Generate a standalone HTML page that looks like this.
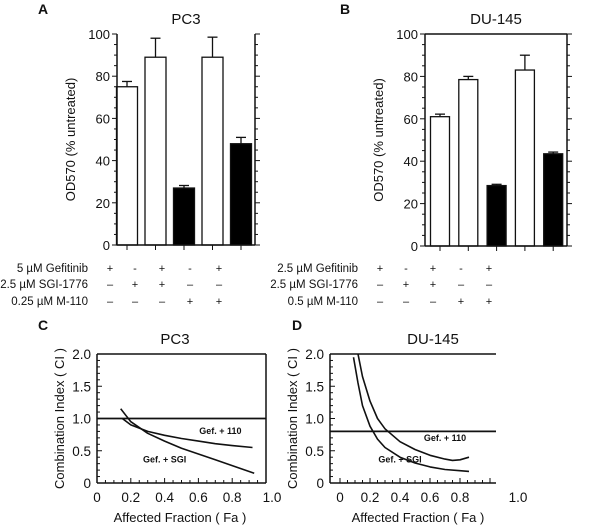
<!DOCTYPE html>
<html><head><meta charset="utf-8"><style>
html,body{margin:0;padding:0;background:#fff;}
svg{display:block;font-family:"Liberation Sans",Arial,sans-serif;}
</style></head><body>
<svg id="fig" width="600" height="526" viewBox="0 0 600 526">
<g id="g" stroke-linecap="butt"></g>
</svg>
<script>
// Panel A/B bar data
const barValsA = [75, 89, 27, 89, 48];
const barErrA = [2.5, 9, 1.2, 9.5, 3];
const barFillA = ["white","white","black","white","black"];
const barValsB = [61, 78.5, 28.5, 83, 43.5];
const barErrB = [1.2, 1.5, 0.6, 7, 0.8];
const barFillB = ["white","white","black","white","black"];
const yTicksBar = [0, 20, 40, 60, 80, 100];
const rowLabelsA = ["5 \u00b5M Gefitinib","2.5 \u00b5M SGI-1776","0.25 \u00b5M M-110"];
const rowLabelsB = ["2.5 \u00b5M Gefitinib","2.5 \u00b5M SGI-1776","0.5 \u00b5M M-110"];
const signs = [["+","-","+","-","+"],["\u2013","+","+","\u2013","\u2013"],["\u2013","\u2013","\u2013","+","+"]];
// Panel C/D CI data
const ciTicks = [0, 0.5, 1.0, 1.5, 2.0];
const ciTickLabels = ["0","0.5","1.0","1.5","2.0"];
const faTicks = [0, 0.2, 0.4, 0.6, 0.8, 1.0];
const faTickLabels = ["0","0.2","0.4","0.6","0.8","1.0"];
const cSgiFa = [0.14,0.2,0.3,0.4,0.5,0.6,0.7,0.8,0.93];
const cSgiCi = [1.15,0.95,0.77,0.65,0.54,0.45,0.36,0.27,0.15];
const c110Fa = [0.15,0.2,0.3,0.4,0.5,0.6,0.7,0.8,0.92];
const c110Ci = [1.0,0.9,0.8,0.74,0.69,0.65,0.61,0.58,0.55];
const cRef = 1.0;
const dSgiFa = [0.09,0.12,0.15,0.2,0.25,0.3,0.4,0.5,0.6,0.7,0.8,0.86];
const dSgiCi = [1.95,1.55,1.2,0.88,0.68,0.55,0.4,0.31,0.25,0.21,0.19,0.18];
const d110Fa = [0.12,0.15,0.2,0.25,0.3,0.4,0.5,0.6,0.7,0.75,0.8,0.86];
const d110Ci = [2.0,1.65,1.27,1.0,0.84,0.64,0.52,0.43,0.37,0.35,0.36,0.4];
const dRef = 0.8;

const NS="http://www.w3.org/2000/svg";
const g=document.getElementById('g');
function el(t,a,txt){const e=document.createElementNS(NS,t);for(const k in a)e.setAttribute(k,a[k]);if(txt!==undefined)e.textContent=txt;g.appendChild(e);return e;}
function line(x1,y1,x2,y2,w){return el('line',{x1,y1,x2,y2,stroke:'#111','stroke-width':w||1});}
function text(x,y,s,size,anchor,weight){return el('text',{x,y,'font-size':size,'text-anchor':anchor||'middle','font-weight':weight||'normal',fill:'#111'},s);}

function barPanel(o){
  const yS=v=>o.bottom-(v/100)*(o.bottom-o.top);
  const t=text(0,0,"OD570 (% untreated)",13,'middle');
  t.setAttribute('transform',`translate(${o.left-42},${(o.top+o.bottom)/2}) rotate(-90)`);
  
  const tt=text((o.left+o.right)/2,o.top-10,o.title,15);
  
  const L=text(o.letterX,14,o.letter,14,'start','bold');
  
  for(let v=0;v<=100;v+=5){const y=yS(v);const len=v%20===0?5:3;line(o.left-len,y,o.left,y);line(o.right,y,o.right+len,y);}
  yTicksBar.forEach(v=>{const e=text(o.left-7,yS(v)+5,String(v),13,'end');});
  o.vals.forEach((v,i)=>{
    const cx=o.left+o.first+i*o.step;
    const r=el('rect',{x:cx-o.bw/2,y:yS(v),width:o.bw,height:o.bottom-yS(v),fill:o.fill[i],stroke:'#111','stroke-width':1.3});
    
    const ye=yS(v+o.err[i]);line(cx,yS(v),cx,ye,1.3);line(cx-5,ye,cx+5,ye,1.3);
    line(cx,o.bottom,cx,o.bottom+5);
  });
  line(o.left,o.top,o.left,o.bottom,1.5);line(o.right,o.top,o.right,o.bottom,1.5);
  line(o.left,o.bottom,o.right,o.bottom,1.5);
  if(o.topBorder)line(o.left,o.top,o.right,o.top,1.5);
  const rows=[268,284,301];
  o.labels.forEach((s,r)=>{
    const e=text(o.labelX,rows[r]+4,s,11.5,'end');
    signs[r].forEach((sg,i)=>{text(o.signX[i],rows[r]+4,sg,11,'middle');});
  });
}
barPanel({left:117,right:255,top:34,bottom:245,first:10,step:28.5,bw:21,vals:barValsA,err:barErrA,fill:barFillA,title:"PC3",letter:"A",letterX:38,labels:rowLabelsA,labelX:88,signX:[110,135,162,190,219],topBorder:false});
barPanel({left:425,right:567,top:34,bottom:246,first:15,step:28.3,bw:19,vals:barValsB,err:barErrB,fill:barFillB,title:"DU-145",letter:"B",letterX:340,labels:rowLabelsB,labelX:358,signX:[380,406,433,461,489],topBorder:true});

function ciPanel(o){
  const xS=f=>o.x0+f*(o.x1-o.x0);
  const yS=c=>o.bottom-(c/2)*(o.bottom-o.top);
  const L=text(o.letterX,330,o.letter,14,'start','bold');
  const tt=text(o.titleX,344,o.title,15);
  const t=text(0,0,"Combination Index ( CI )",13,'middle');
  t.setAttribute('transform',`translate(${o.left-33},${(o.top+o.bottom)/2}) rotate(-90)`);
  
  const xt=text(o.xtX,522,"Affected Fraction ( Fa )",13);
  for(let c=0;c<=2.001;c+=0.1){const y=yS(c);const len=Math.abs(c*2-Math.round(c*2))<0.01?5:3;line(o.left,y,o.left+len,y);}
  for(let f=0;f<=1.001;f+=0.05){const x=xS(f);if(x>o.right)continue;const len=Math.abs(f*5-Math.round(f*5))<0.01?5:3;line(x,o.bottom,x,o.bottom-len);}
  ciTicks.forEach((c,i)=>{const e=text(o.left-6,yS(c)+5,ciTickLabels[i],13.5,'end');});
  faTicks.forEach((f,i)=>{const e=text(i===faTicks.length-1?o.lastLabelX:xS(f),502,faTickLabels[i],13.5,'middle');});
  line(o.left,o.top,o.left,o.bottom,1.5);line(o.left,o.bottom,o.right,o.bottom,1.5);
  line(o.left,o.top,o.right,o.top,1.5);
  if(o.rightBorder)line(o.right,o.top,o.right,o.bottom,1.5);
  const r=line(o.left,yS(o.ref),o.right,yS(o.ref),1.7);
  o.series.forEach(s=>{
    const d=s.fa.map((f,i)=>(i?'L':'M')+xS(f).toFixed(1)+','+yS(s.ci[i]).toFixed(1)).join(' ');
    const p=el('path',{d,fill:'none',stroke:'#111','stroke-width':1.6,'stroke-linejoin':'round'});
    
    const lb=text(xS(s.lx),yS(s.ly),s.label,9,'middle','bold');
  });
}
ciPanel({left:97,right:266,x0:97,x1:266,top:354,bottom:483,letter:"C",letterX:38,title:"PC3",titleX:175,xtX:180,ref:cRef,rightBorder:true,lastLabelX:272,
  series:[{name:'gef-sgi-curve',fa:cSgiFa,ci:cSgiCi,label:'Gef. + SGI',lx:0.4,ly:0.32},{name:'gef-110-curve',fa:c110Fa,ci:c110Ci,label:'Gef. + 110',lx:0.73,ly:0.76}]});
ciPanel({left:330,right:496,x0:340,x1:490,top:354,bottom:483,letter:"D",letterX:292,title:"DU-145",titleX:433,xtX:418,ref:dRef,rightBorder:false,lastLabelX:518,
  series:[{name:'gef-sgi-curve',fa:dSgiFa,ci:dSgiCi,label:'Gef. + SGI',lx:0.4,ly:0.32},{name:'gef-110-curve',fa:d110Fa,ci:d110Ci,label:'Gef. + 110',lx:0.7,ly:0.65}]});
</script>
</body></html>
